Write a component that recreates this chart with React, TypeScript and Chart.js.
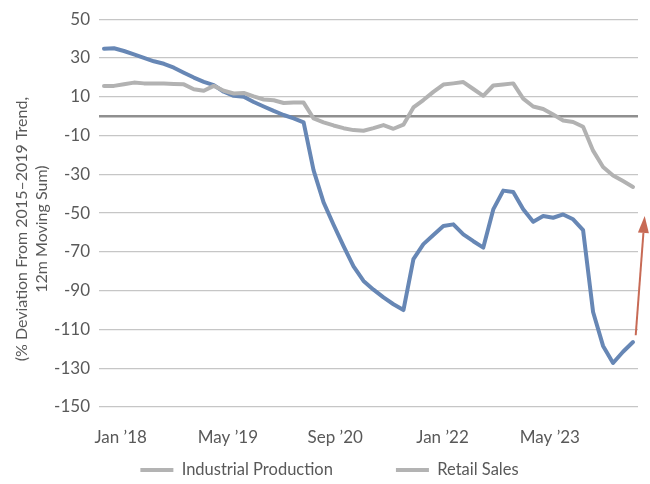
import React, { useEffect, useRef } from 'react';
import { Chart, registerables } from 'chart.js';

Chart.register(...registerables);

// ---- data ----
const xTickLabels = ['Jan \u201918', 'May \u201919', 'Sep \u201920', 'Jan \u201922', 'May \u201923'];
const xTickPositions = [1.67, 12.42, 23.17, 33.92, 44.67];

const industrialProduction = [
  34.8, 35, 33.6, 31.9, 30.1, 28.3, 27, 25, 22.4, 19.9,
  17.7, 16, 12.6, 10.5, 10, 7.3, 5, 2.7, 0.6, -1.1,
  -3.2, -28, -44.5, -56, -67, -77.5, -85, -89.5, -93.5, -97,
  -100, -73.7, -66, -61.3, -56.7, -55.8, -61, -64.5, -67.8, -48.1,
  -38.4, -39.1, -48, -54.5, -51.5, -52.4, -50.7, -53.2, -58.8, -101,
  -118.5, -127.3, -121.5, -116.5,
];

const retailSales = [
  15.6, 15.6, 16.5, 17.3, 16.9, 16.8, 16.8, 16.6, 16.4, 13.9,
  13.1, 15.6, 13.1, 11.7, 12, 10.2, 8.6, 8.2, 6.8, 7,
  7, -1.2, -3.2, -4.8, -6.2, -7.2, -7.5, -6.2, -4.6, -6.5,
  -4.4, 4.5, 8.3, 12.5, 16.3, 16.9, 17.6, 14, 10.5, 15.8,
  16.3, 16.9, 9, 5, 3.7, 0.8, -2.2, -3, -5.5, -17.8,
  -26.2, -30.6, -33.5, -36.5,
];

const yTitle = ['(% Deviation From 2015\u20132019 Trend,', '12m Moving Sum)'];
const yMin = -150;
const yMax = 50;
const yStep = 20;

const arrowStart = { x: 53.27, y: -113 };
const arrowEnd = { x: 54.17, y: -51.5 };

// ---- styles ----
const FONT = "Lato, 'Open Sans', sans-serif";
const TEXT = '#595959';
const BLUE = '#6787b5';
const GRAY = '#b2b2b2';
const SWATCH = '#b3b3b3';
const GRID = '#c6c6c6';
const ZERO = '#8f8f8f';
const ARROW = '#c76a55';

export default function App() {
  const ref = useRef<HTMLCanvasElement>(null);

  useEffect(() => {
    if (!ref.current) return;

    const zeroLine = {
      id: 'zeroLine',
      beforeDatasetsDraw(chart: any) {
        const { ctx, chartArea, scales } = chart;
        const y = scales.y.getPixelForValue(0);
        ctx.save();
        ctx.strokeStyle = ZERO;
        ctx.lineWidth = 2.5;
        ctx.beginPath();
        ctx.moveTo(chartArea.left, y);
        ctx.lineTo(chartArea.right, y);
        ctx.stroke();
        ctx.restore();
      },
    };

    const arrow = {
      id: 'arrow',
      afterDatasetsDraw(chart: any) {
        const { ctx, scales } = chart;
        const x0 = scales.x.getPixelForValue(arrowStart.x);
        const y0 = scales.y.getPixelForValue(arrowStart.y);
        const x1 = scales.x.getPixelForValue(arrowEnd.x);
        const y1 = scales.y.getPixelForValue(arrowEnd.y);
        const ang = Math.atan2(y1 - y0, x1 - x0);
        const headLen = 17;
        const headHalf = 5.5;
        const bx = x1 - headLen * Math.cos(ang);
        const by = y1 - headLen * Math.sin(ang);
        ctx.save();
        ctx.strokeStyle = ARROW;
        ctx.fillStyle = ARROW;
        ctx.lineWidth = 2;
        ctx.beginPath();
        ctx.moveTo(x0, y0);
        ctx.lineTo(bx, by);
        ctx.stroke();
        ctx.beginPath();
        ctx.moveTo(x1, y1);
        ctx.lineTo(bx + headHalf * Math.sin(ang), by - headHalf * Math.cos(ang));
        ctx.lineTo(bx - headHalf * Math.sin(ang), by + headHalf * Math.cos(ang));
        ctx.closePath();
        ctx.fill();
        ctx.restore();
      },
    };

    // Layout tweaks after Chart.js has placed its boxes:
    //  - the legend uses one padding for vertical and horizontal gaps, so its box is
    //    moved up to keep the wide horizontal gap without pushing the row down;
    //  - the y-axis title sits a little below the plot centre in the reference
    //    (pixel mapping is already configured, so only the title is affected).
    const layoutTweaks = {
      id: 'layoutTweaks',
      afterLayout(chart: any) {
        const lg = chart.legend;
        if (lg) {
          const pad = lg.options.labels.padding;
          const itemH = lg.options.labels.font.size;
          const top = 470 - itemH / 2 - pad;
          lg.top = top;
          lg.height = lg.bottom - top;
          lg.left = 0;
          lg.right = 659;
          lg.width = 659;
        }
        const ys = chart.scales.y;
        ys.top += 16;
        ys.bottom += 16;
      },
    };

    const chart = new Chart(ref.current, {
      type: 'line',
      data: {
        datasets: [
          {
            label: 'Industrial Production',
            data: industrialProduction.map((y, i) => ({ x: i, y })),
            borderColor: BLUE,
            backgroundColor: BLUE,
            borderWidth: 4,
            pointRadius: 0,
            tension: 0,
            borderJoinStyle: 'round',
            borderCapStyle: 'round',
            order: 1,
          },
          {
            label: 'Retail Sales',
            data: retailSales.map((y, i) => ({ x: i, y })),
            borderColor: GRAY,
            backgroundColor: GRAY,
            borderWidth: 4,
            pointRadius: 0,
            tension: 0,
            borderJoinStyle: 'round',
            borderCapStyle: 'round',
            order: 0,
          },
        ],
      },
      options: {
        animation: false,
        responsive: true,
        maintainAspectRatio: false,
        layout: { padding: { top: 17, right: 12, left: 0, bottom: 0 } },
        plugins: {
          tooltip: { enabled: false },
          legend: {
            position: 'bottom',
            maxHeight: 30,
            labels: {
              font: { family: FONT, size: 16.5 },
              color: TEXT,
              boxWidth: 33,
              boxHeight: 4,
              padding: 63,
              generateLabels: (c: any) =>
                c.data.datasets.map((ds: any, i: number) => ({
                  text: ds.label,
                  fillStyle: SWATCH,
                  strokeStyle: SWATCH,
                  lineWidth: 0,
                  hidden: false,
                  datasetIndex: i,
                  fontColor: TEXT,
                })),
            },
          },
        },
        scales: {
          x: {
            type: 'linear',
            min: -0.5,
            max: industrialProduction.length - 0.5,
            grid: { display: false, drawTicks: false },
            border: { display: false },
            afterBuildTicks: (s: any) => {
              s.ticks = xTickPositions.map((v) => ({ value: v }));
            },
            afterFit: (s: any) => {
              s.height = 47;
            },
            ticks: {
              autoSkip: false,
              maxRotation: 0,
              padding: 20,
              color: TEXT,
              font: { family: FONT, size: 17 },
              callback: (_v: any, i: number) => xTickLabels[i],
            },
          },
          y: {
            min: yMin,
            max: yMax,
            ticks: {
              stepSize: yStep,
              padding: 9,
              color: TEXT,
              font: { family: FONT, size: 17 },
            },
            grid: { color: GRID, lineWidth: 1.3, drawTicks: false },
            border: { display: false },
            afterFit: (s: any) => {
              s.width = 99;
            },
            title: {
              display: true,
              text: yTitle,
              color: TEXT,
              font: { family: FONT, size: 16, lineHeight: 1.25 },
              padding: { top: 12, bottom: 0 },
            },
          },
        },
      },
      plugins: [zeroLine, arrow, layoutTweaks],
    } as any);

    return () => chart.destroy();
  }, []);

  return (
    <div style={{ position: 'fixed', left: 0, top: 0, width: 650, height: 484 }}>
      <canvas ref={ref} />
    </div>
  );
}
